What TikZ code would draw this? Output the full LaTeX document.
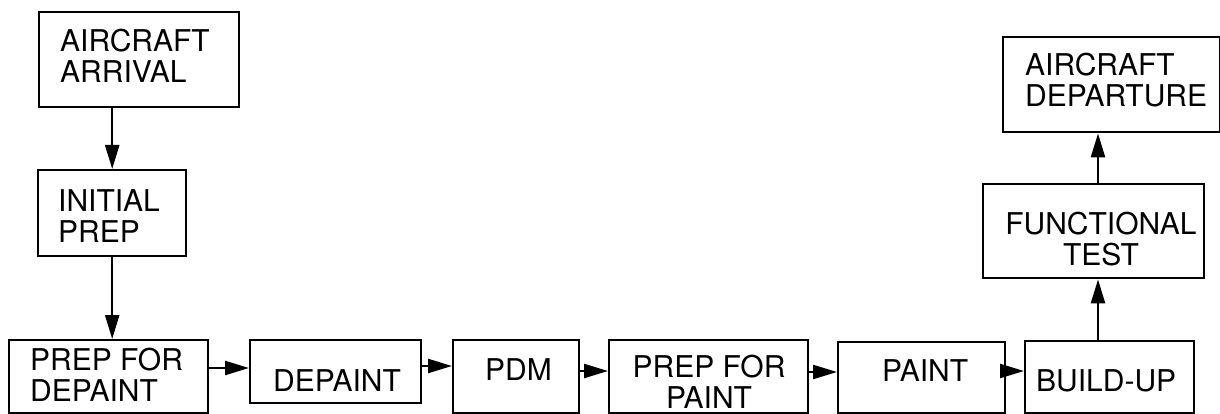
\documentclass[tikz,border=0pt]{standalone}
\usepackage{fontspec}
\setmainfont{TeX Gyre Heros}
\usetikzlibrary{arrows.meta}
\tikzset{
  stepbox/.style={draw, line width=2.4pt, rectangle, inner sep=0pt, anchor=north west},
  lbl/.style={inner sep=0pt, anchor=base west, align=left, font=\fontsize{30}{31}\selectfont},
  clbl/.style={inner sep=0pt, anchor=base, align=center, font=\fontsize{30}{31}\selectfont},
  flow/.style={line width=2.4pt, -{Triangle[length=24pt,width=14pt]}}
}
\begin{document}
\begin{tikzpicture}[x=1pt,y=-1pt]
\useasboundingbox (0,0) rectangle (1220,414);
% boxes
\node[stepbox, minimum width=200pt, minimum height=95pt] (arr) at (38,11) {};
\node[stepbox, minimum width=148pt, minimum height=86pt] (ini) at (37,169) {};
\node[stepbox, minimum width=199pt, minimum height=73pt] (pfd) at (8,339) {};
\node[stepbox, minimum width=171pt, minimum height=63pt] (dep) at (249,339) {};
\node[stepbox, minimum width=126pt, minimum height=73pt] (pdm) at (452,339) {};
\node[stepbox, minimum width=199pt, minimum height=73pt] (pfp) at (608,339) {};
\node[stepbox, minimum width=167pt, minimum height=71pt] (pnt) at (837,341) {};
\node[stepbox, minimum width=169pt, minimum height=72pt] (bld) at (1024,340) {};
\node[stepbox, minimum width=221pt, minimum height=94pt] (ft) at (982,183) {};
\node[stepbox, minimum width=217pt, minimum height=95pt] (ad) at (1002,36) {};
% texts (anchored at the baseline of the last line)
\node[lbl] (tarr) at (60,83) {AIRCRAFT\\ARRIVAL};
\node[lbl] (tini) at (58,242) {INITIAL\\PREP};
\node[lbl] (tpfd) at (30,401) {PREP FOR\\DEPAINT};
\node[lbl] (tdep) at (273,391) {DEPAINT};
\node[lbl] (tpdm) at (485,380) {PDM};
\node[clbl] (tpfp) at (709,408) {PREP FOR\\PAINT};
\node[lbl] (tpnt) at (882,381) {PAINT};
\node[lbl] (tbld) at (1036,391) {BUILD-UP};
\node[clbl] (tft) at (1101,265) {FUNCTIONAL\\TEST};
\node[lbl] (tad) at (1025,107) {AIRCRAFT\\DEPARTURE};
% connectors
\draw[flow] (arr.south -| ini.north) -- (ini.north);
\draw[flow] (ini.south) -- (pfd.north -| ini.south);
\draw[flow] (pfd.east |- 0,368) -- (dep.west |- 0,368);
\draw[flow] (dep.east |- 0,366) -- (pdm.west |- 0,366);
\draw[flow] (pdm.east |- 0,371) -- (pfp.west |- 0,371);
\draw[flow] (pfp.east |- 0,372) -- (pnt.west |- 0,372);
\draw[flow] (pnt.east |- 0,371) -- (bld.west |- 0,371);
\draw[flow] (bld.north -| 1098,0) -- (ft.south -| 1098,0);
\draw[flow] (ft.north -| 1098,0) -- (ad.south -| 1098,0);
\end{tikzpicture}
\end{document}
